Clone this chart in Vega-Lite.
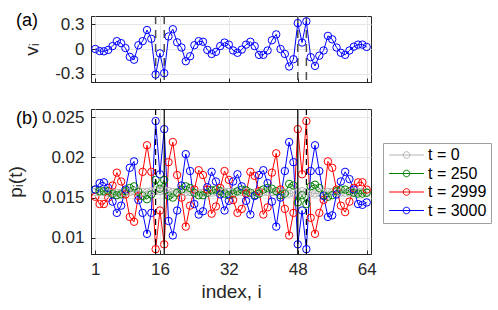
{
  "$schema": "https://vega.github.io/schema/vega-lite/v6.json",
  "background": "white",
  "padding": {"left": 5, "top": 11, "right": 5, "bottom": 5},
  "bounds": "flush",
  "spacing": 27,
  "config": {
    "font": "Liberation Sans",
    "view": {"stroke": "#262626", "strokeWidth": 1},
    "axis": {
      "domainColor": "#262626", "tickColor": "#262626", "labelColor": "#262626", "titleColor": "#262626",
      "labelFont": "Liberation Sans", "titleFont": "Liberation Sans",
      "labelFontSize": 17, "titleFontSize": 19, "titleFontWeight": "normal",
      "gridColor": "#e6e6e6", "tickSize": -4, "labelPadding": 11, "labelOverlap": false, "labelFlush": false, "labelBound": false
    },
    "title": {"font": "Liberation Sans", "fontSize": 18, "fontWeight": "normal", "color": "#000000"}
  },
  "datasets": {
    "v": [
      {"i":1,"v":0.0},{"i":2,"v":-0.025},{"i":3,"v":-0.028},{"i":4,"v":-0.011},{"i":5,"v":0.035},{"i":6,"v":0.095},{"i":7,"v":0.071},{"i":8,"v":0.011},
      {"i":9,"v":-0.095},{"i":10,"v":-0.13},{"i":11,"v":0.046},{"i":12,"v":0.095},{"i":13,"v":0.23},{"i":14,"v":0.124},{"i":15,"v":-0.31},{"i":16,"v":-0.053},
      {"i":17,"v":-0.293},{"i":18,"v":0.152},{"i":19,"v":0.24},{"i":20,"v":0.081},{"i":21,"v":0.018},{"i":22,"v":-0.148},{"i":23,"v":-0.088},{"i":24,"v":0.046},
      {"i":25,"v":0.095},{"i":26,"v":0.088},{"i":27,"v":-0.011},{"i":28,"v":-0.06},{"i":29,"v":-0.035},{"i":30,"v":0.035},{"i":31,"v":0.078},{"i":32,"v":0.053},
      {"i":33,"v":-0.018},{"i":34,"v":-0.046},{"i":35,"v":-0.007},{"i":36,"v":0.053},{"i":37,"v":0.088},{"i":38,"v":0.035},{"i":39,"v":-0.071},{"i":40,"v":-0.071},
      {"i":41,"v":-0.018},{"i":42,"v":0.106},{"i":43,"v":0.177},{"i":44,"v":0.0},{"i":45,"v":-0.06},{"i":46,"v":-0.212},{"i":47,"v":-0.124},{"i":48,"v":0.314},
      {"i":49,"v":0.078},{"i":50,"v":0.335},{"i":51,"v":-0.099},{"i":52,"v":-0.205},{"i":53,"v":-0.081},{"i":54,"v":-0.018},{"i":55,"v":0.159},{"i":56,"v":0.117},
      {"i":57,"v":0.018},{"i":58,"v":-0.046},{"i":59,"v":-0.071},{"i":60,"v":-0.018},{"i":61,"v":0.028},{"i":62,"v":0.053},{"i":63,"v":0.053},{"i":64,"v":0.025}
    ],
    "p": [
      {"i":1,"t0":0.0157,"t250":0.0160,"t2999":0.0151,"t3000":0.0160},
      {"i":2,"t0":0.0157,"t250":0.0158,"t2999":0.0142,"t3000":0.0168},
      {"i":3,"t0":0.0157,"t250":0.0158,"t2999":0.0142,"t3000":0.0169},
      {"i":4,"t0":0.0156,"t250":0.0158,"t2999":0.0150,"t3000":0.0162},
      {"i":5,"t0":0.0156,"t250":0.01545,"t2999":0.0165,"t3000":0.0145},
      {"i":6,"t0":0.0156,"t250":0.0153,"t2999":0.0181,"t3000":0.0131},
      {"i":7,"t0":0.0156,"t250":0.0154,"t2999":0.0170,"t3000":0.0140},
      {"i":8,"t0":0.0157,"t250":0.0158,"t2999":0.0154,"t3000":0.0160},
      {"i":9,"t0":0.0157,"t250":0.0162,"t2999":0.0126,"t3000":0.0187},
      {"i":10,"t0":0.0158,"t250":0.0164,"t2999":0.0120,"t3000":0.0195},
      {"i":11,"t0":0.0158,"t250":0.0157,"t2999":0.0152,"t3000":0.0147},
      {"i":12,"t0":0.0157,"t250":0.0152,"t2999":0.0182,"t3000":0.0131},
      {"i":13,"t0":0.0157,"t250":0.0148,"t2999":0.0215,"t3000":0.0105},
      {"i":14,"t0":0.0158,"t250":0.0154,"t2999":0.0182,"t3000":0.0131},
      {"i":15,"t0":0.0159,"t250":0.0172,"t2999":0.0086,"t3000":0.0245},
      {"i":16,"t0":0.0158,"t250":0.0161,"t2999":0.0134,"t3000":0.0179},
      {"i":17,"t0":0.0159,"t250":0.0172,"t2999":0.0092,"t3000":0.0235},
      {"i":18,"t0":0.0158,"t250":0.0152,"t2999":0.0194,"t3000":0.0121},
      {"i":19,"t0":0.0157,"t250":0.0150,"t2999":0.0219,"t3000":0.0103},
      {"i":20,"t0":0.0157,"t250":0.0156,"t2999":0.0178,"t3000":0.0134},
      {"i":21,"t0":0.0157,"t250":0.0160,"t2999":0.0150,"t3000":0.0165},
      {"i":22,"t0":0.0157,"t250":0.0164,"t2999":0.0114,"t3000":0.0204},
      {"i":23,"t0":0.0157,"t250":0.0162,"t2999":0.0140,"t3000":0.0183},
      {"i":24,"t0":0.0156,"t250":0.0156,"t2999":0.0160,"t3000":0.0142},
      {"i":25,"t0":0.0156,"t250":0.0153,"t2999":0.0184,"t3000":0.0129},
      {"i":26,"t0":0.0156,"t250":0.0153,"t2999":0.0178,"t3000":0.0133},
      {"i":27,"t0":0.0156,"t250":0.0156,"t2999":0.0160,"t3000":0.0163},
      {"i":28,"t0":0.0156,"t250":0.0159,"t2999":0.0130,"t3000":0.0182},
      {"i":29,"t0":0.0157,"t250":0.0160,"t2999":0.0139,"t3000":0.0170},
      {"i":30,"t0":0.0157,"t250":0.0158,"t2999":0.0162,"t3000":0.0154},
      {"i":31,"t0":0.0157,"t250":0.0155,"t2999":0.0183,"t3000":0.0134},
      {"i":32,"t0":0.0157,"t250":0.0153,"t2999":0.0172,"t3000":0.0146},
      {"i":33,"t0":0.0157,"t250":0.0155,"t2999":0.0147,"t3000":0.0170},
      {"i":34,"t0":0.0157,"t250":0.0158,"t2999":0.0131,"t3000":0.0179},
      {"i":35,"t0":0.0157,"t250":0.0160,"t2999":0.0136,"t3000":0.0164},
      {"i":36,"t0":0.0157,"t250":0.0159,"t2999":0.0155,"t3000":0.0146},
      {"i":37,"t0":0.0156,"t250":0.0156,"t2999":0.0182,"t3000":0.0129},
      {"i":38,"t0":0.0156,"t250":0.0153,"t2999":0.0177,"t3000":0.0152},
      {"i":39,"t0":0.0156,"t250":0.0155,"t2999":0.0158,"t3000":0.0178},
      {"i":40,"t0":0.0157,"t250":0.0160,"t2999":0.0129,"t3000":0.0184},
      {"i":41,"t0":0.0157,"t250":0.0162,"t2999":0.0138,"t3000":0.0168},
      {"i":42,"t0":0.0157,"t250":0.0161,"t2999":0.0181,"t3000":0.0145},
      {"i":43,"t0":0.0157,"t250":0.0158,"t2999":0.0205,"t3000":0.0114},
      {"i":44,"t0":0.0156,"t250":0.0153,"t2999":0.0160,"t3000":0.0150},
      {"i":45,"t0":0.0156,"t250":0.0155,"t2999":0.0136,"t3000":0.0183},
      {"i":46,"t0":0.0155,"t250":0.0167,"t2999":0.0103,"t3000":0.0219},
      {"i":47,"t0":0.0156,"t250":0.0165,"t2999":0.0131,"t3000":0.0194},
      {"i":48,"t0":0.0157,"t250":0.0144,"t2999":0.0235,"t3000":0.0092},
      {"i":49,"t0":0.0158,"t250":0.0153,"t2999":0.0179,"t3000":0.0134},
      {"i":50,"t0":0.0157,"t250":0.0142,"t2999":0.0245,"t3000":0.0086},
      {"i":51,"t0":0.0156,"t250":0.0164,"t2999":0.0125,"t3000":0.0183},
      {"i":52,"t0":0.0155,"t250":0.0166,"t2999":0.0105,"t3000":0.0215},
      {"i":53,"t0":0.0156,"t250":0.0162,"t2999":0.0131,"t3000":0.0183},
      {"i":54,"t0":0.0156,"t250":0.0153,"t2999":0.0147,"t3000":0.0152},
      {"i":55,"t0":0.0157,"t250":0.0151,"t2999":0.0195,"t3000":0.0126},
      {"i":56,"t0":0.0157,"t250":0.0153,"t2999":0.0187,"t3000":0.0128},
      {"i":57,"t0":0.0157,"t250":0.0158,"t2999":0.0160,"t3000":0.0154},
      {"i":58,"t0":0.0156,"t250":0.0160,"t2999":0.0140,"t3000":0.0170},
      {"i":59,"t0":0.0156,"t250":0.0160,"t2999":0.0132,"t3000":0.0182},
      {"i":60,"t0":0.0156,"t250":0.0158,"t2999":0.0145,"t3000":0.0173},
      {"i":61,"t0":0.0157,"t250":0.0156,"t2999":0.0162,"t3000":0.0160},
      {"i":62,"t0":0.0157,"t250":0.0155,"t2999":0.0169,"t3000":0.0142},
      {"i":63,"t0":0.0157,"t250":0.0155,"t2999":0.0169,"t3000":0.0141},
      {"i":64,"t0":0.0157,"t250":0.0156,"t2999":0.0160,"t3000":0.0144}
    ]
  },
  "vconcat": [
    {
      "width": 280,
      "height": 66,
      "title": {"text": "(a)", "anchor": "start", "frame": "group", "orient": "top", "offset": -24, "baseline": "middle", "dx": -75},
      "layer": [
        {
          "data": {"values": [{"i": 15}, {"i": 17}, {"i": 48}, {"i": 50}]},
          "mark": {"type": "rule", "color": "#4d4d4d", "strokeWidth": 1.5, "strokeDash": [8, 6]},
          "encoding": {"x": {"field": "i", "type": "quantitative", "scale": {"domain": [1, 64]}}}
        },
        {
          "data": {"name": "v"},
          "mark": {"type": "line", "color": "#0000ff", "strokeWidth": 1},
          "encoding": {
            "x": {"field": "i", "type": "quantitative", "scale": {"domain": [1, 64]},
                  "axis": {"values": [1, 16, 32, 48, 64], "tickCount": 10, "labels": false, "title": null, "grid": true}},
            "y": {"field": "v", "type": "quantitative", "scale": {"domain": [-0.335, 0.365]},
                  "axis": {"values": [-0.3, 0, 0.3], "tickCount": 10, "title": "vᵢ", "grid": true, "titlePadding": 13, "labelOverlap": false,
                           "labelExpr": "datum.value == 0 ? '0' : (datum.value < 0 ? '-0.3' : '0.3')"}}
          }
        },
        {
          "data": {"name": "v"},
          "mark": {"type": "point", "shape": "circle", "filled": false, "color": "#0000ff", "size": 55, "strokeWidth": 1, "opacity": 1},
          "encoding": {
            "x": {"field": "i", "type": "quantitative"},
            "y": {"field": "v", "type": "quantitative"}
          }
        }
      ]
    },
    {
      "width": 280,
      "height": 145,
      "title": {"text": "(b)", "anchor": "start", "frame": "group", "orient": "top", "offset": -29, "baseline": "middle", "dx": -75},
      "layer": [
        {
          "data": {"name": "p"},
          "transform": [{"fold": ["t0", "t250", "t2999", "t3000"], "as": ["t", "p"]}],
          "mark": {"type": "line", "strokeWidth": 1},
          "encoding": {
            "x": {"field": "i", "type": "quantitative", "scale": {"domain": [1, 64]},
                  "axis": {"values": [1, 16, 32, 48, 64], "tickCount": 10, "title": "index, i", "grid": true, "titlePadding": 5}},
            "y": {"field": "p", "type": "quantitative", "scale": {"domain": [0.008, 0.025]},
                  "axis": {"values": [0.01, 0.015, 0.02, 0.025], "tickCount": 10, "format": ".3~f", "title": "pᵢ(t)", "grid": true, "titlePadding": 16}},
            "color": {"field": "t", "type": "nominal",
                      "scale": {"domain": ["t0", "t250", "t2999", "t3000"], "range": ["#b3b3b3", "#008000", "#ff0000", "#0000ff"]},
                      "legend": {"orient": "none", "legendX": 292, "legendY": 127, "title": null,
                                 "labelExpr": "'t = ' + substring(datum.label, 1)",
                                 "labelFontSize": 16, "labelFont": "Liberation Sans", "labelColor": "#000000",
                                 "symbolType": "M-2.9,0H2.9M0.55,0A0.55,0.55,0,1,1,-0.55,0A0.55,0.55,0,1,1,0.55,0",
                                 "symbolSize": 144, "symbolStrokeWidth": 1, "symbolFillColor": "white",
                                 "symbolOffset": 11.5, "labelOffset": 13.5,
                                 "strokeColor": "#a0a0a0", "fillColor": "white", "padding": 4, "rowPadding": 2.5}}
          }
        },
        {
          "data": {"name": "p"},
          "transform": [{"fold": ["t0", "t250", "t2999", "t3000"], "as": ["t", "p"]}],
          "mark": {"type": "point", "shape": "circle", "filled": false, "size": 55, "strokeWidth": 1, "opacity": 1},
          "encoding": {
            "x": {"field": "i", "type": "quantitative"},
            "y": {"field": "p", "type": "quantitative"},
            "color": {"field": "t", "type": "nominal"}
          }
        },
        {
          "data": {"values": [{"i": 15}, {"i": 50}]},
          "mark": {"type": "rule", "color": "#000000", "strokeWidth": 1.2, "strokeDash": [6, 4]},
          "encoding": {"x": {"field": "i", "type": "quantitative"}}
        },
        {
          "data": {"values": [{"i": 17}, {"i": 48}]},
          "mark": {"type": "rule", "color": "#000000", "strokeWidth": 1.2},
          "encoding": {"x": {"field": "i", "type": "quantitative"}}
        },
        {
          "mark": {"type": "text", "text": "α = -0.725", "align": "left", "baseline": "middle", "fontSize": 18, "font": "Liberation Sans", "color": "#000000"},
          "encoding": {"x": {"datum": 22.8, "type": "quantitative"}, "y": {"datum": 0.023, "type": "quantitative"}}
        }
      ]
    }
  ]
}
